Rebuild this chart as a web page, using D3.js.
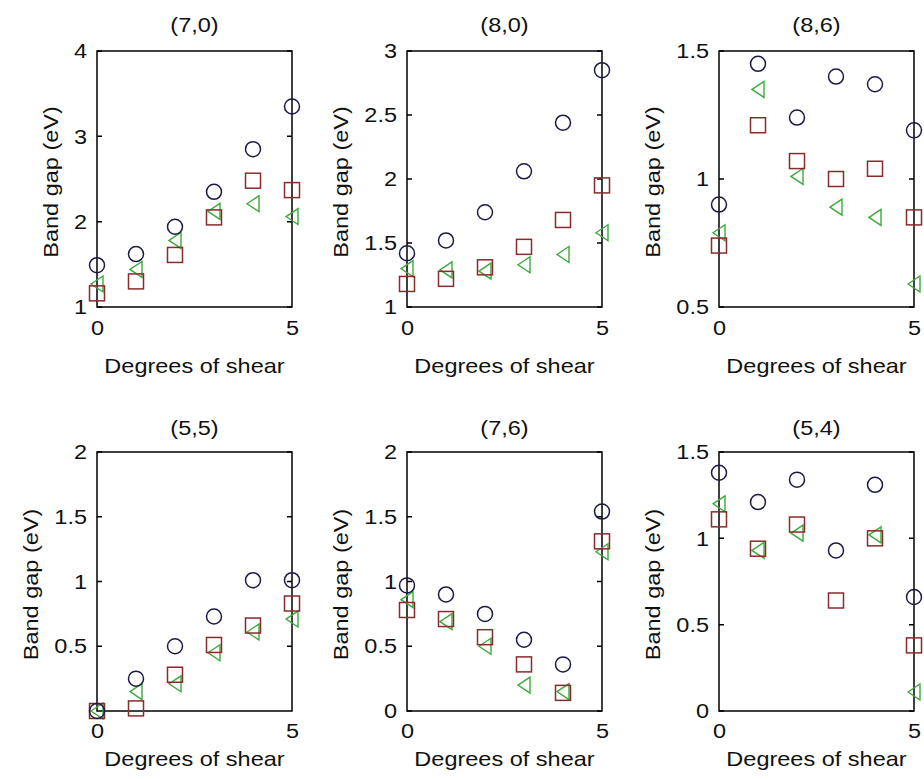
<!DOCTYPE html>
<html>
<head>
<meta charset="utf-8">
<script src="https://cdn.jsdelivr.net/npm/d3@7"></script>
<style>
  body { margin: 0; background: #fff; }
  svg text { font-family: "Liberation Sans", Arial, Helvetica, sans-serif; fill: #111; }
</style>
</head>
<body>
<div id="chart"></div>
<script>
// shear angle on x for every panel
const shear = [0, 1, 2, 3, 4, 5];

// panel titles (nanotube chirality)
const titles = ["(7,0)", "(8,0)", "(8,6)", "(5,5)", "(7,6)", "(5,4)"];

// y axis ranges and tick labels per panel
const yDomains = [[1, 4], [1, 3], [0.5, 1.5], [0, 2], [0, 2], [0, 1.5]];
const yTicks = [
    [1, 2, 3, 4],
    [1, 1.5, 2, 2.5, 3],
    [0.5, 1, 1.5],
    [0.5, 1, 1.5, 2],
    [0, 0.5, 1, 1.5, 2],
    [0, 0.5, 1, 1.5]
];
const xTicks = [0, 5];

// band gap (eV): circles
const circles = [
    [1.49, 1.62, 1.94, 2.35, 2.85, 3.35],
    [1.42, 1.52, 1.74, 2.06, 2.44, 2.85],
    [0.90, 1.45, 1.24, 1.40, 1.37, 1.19],
    [0.00, 0.25, 0.50, 0.73, 1.01, 1.01],
    [0.97, 0.90, 0.75, 0.55, 0.36, 1.54],
    [1.38, 1.21, 1.34, 0.93, 1.31, 0.66]
];
// band gap (eV): squares
const squares = [
    [1.16, 1.30, 1.61, 2.05, 2.48, 2.37],
    [1.18, 1.22, 1.31, 1.47, 1.68, 1.95],
    [0.74, 1.21, 1.07, 1.00, 1.04, 0.85],
    [0.00, 0.02, 0.28, 0.51, 0.66, 0.83],
    [0.78, 0.71, 0.57, 0.36, 0.14, 1.31],
    [1.11, 0.94, 1.08, 0.64, 1.00, 0.38]
];
// band gap (eV): left triangles
const triangles = [
    [1.27, 1.44, 1.78, 2.12, 2.21, 2.06],
    [1.30, 1.29, 1.28, 1.33, 1.41, 1.58],
    [0.79, 1.35, 1.01, 0.89, 0.85, 0.59],
    [0.00, 0.15, 0.21, 0.45, 0.61, 0.71],
    [0.86, 0.69, 0.50, 0.20, 0.15, 1.23],
    [1.20, 0.93, 1.03, null, 1.02, 0.11]
];

const W = 924, H = 779;
const colLeft = [97, 407, 719];
const panelW = 195;
const rows = [
    { top: 51, height: 256, titleGap: 19, tickGap: 28, labelGap: 66 },
    { top: 452, height: 259, titleGap: 17, tickGap: 27, labelGap: 55 }
];
const fontSize = 21;
const stretch = 1.12;   // the original glyphs are a bit wider than Arial
const markerColors = { circle: "#1b1b48", square: "#8a2b2b", triangle: "#3daa3d" };

const svg = d3.select("#chart").append("svg")
    .attr("width", W)
    .attr("height", H);

// text with a little horizontal stretch
function label(g, x, y, txt, anchor, rotate) {
    const rot = rotate ? " rotate(-90)" : "";
    return g.append("text")
        .attr("transform", `translate(${x},${y})${rot} scale(${stretch},1)`)
        .attr("text-anchor", anchor)
        .style("font-size", fontSize + "px")
        .text(txt);
}

titles.forEach((title, i) => {
    const row = rows[Math.floor(i / 3)];
    const left = colLeft[i % 3];
    const g = svg.append("g").attr("transform", `translate(${left},${row.top})`);

    const x = d3.scaleLinear().domain([0, 5]).range([0, panelW]);
    const y = d3.scaleLinear().domain(yDomains[i]).range([row.height, 0]);

    // title
    label(g, panelW / 2, -row.titleGap, title, "middle");

    // y axis (labels only, ticks drawn inside below)
    const yAxis = g.append("g")
        .call(d3.axisLeft(y).tickValues(yTicks[i]).tickSize(0).tickPadding(10).tickFormat(d => String(d)));
    yAxis.select(".domain").remove();
    yAxis.selectAll("text")
        .style("font-size", fontSize + "px")
        .style("font-family", "Liberation Sans, Arial, sans-serif")
        .each(function() {
            const t = d3.select(this);
            const xx = +t.attr("x");
            t.attr("transform", `translate(${xx},0) scale(${stretch},1)`).attr("x", 0);
        });

    // x axis labels
    const xAxis = g.append("g")
        .attr("transform", `translate(0,${row.height})`)
        .call(d3.axisBottom(x).tickValues(xTicks).tickSize(0).tickPadding(0).tickFormat(d => String(d)));
    xAxis.select(".domain").remove();
    xAxis.selectAll("text")
        .attr("dy", null)
        .attr("y", 0)
        .attr("transform", `translate(0,${row.tickGap}) scale(${stretch},1)`)
        .style("font-size", fontSize + "px")
        .style("font-family", "Liberation Sans, Arial, sans-serif");

    // inner tick marks on left and right
    g.selectAll(".ytick")
        .data(yTicks[i])
        .enter().append("path")
        .attr("d", d => `M0,${y(d)}h5M${panelW},${y(d)}h-5`)
        .attr("stroke", "#000")
        .attr("stroke-width", 1.5);

    // y label, placed past the widest tick label
    const tickW = d3.max(yAxis.selectAll("text").nodes(), n => n.getBBox().width) * stretch;
    label(g, -(10 + tickW + 16), row.height / 2 + 3, "Band gap (eV)", "middle", true);

    // x label
    label(g, panelW / 2, row.height + row.labelGap, "Degrees of shear", "middle");

    // box
    g.append("rect")
        .attr("width", panelW)
        .attr("height", row.height)
        .attr("fill", "none")
        .attr("stroke", "#000")
        .attr("stroke-width", 1.5);

    // markers
    const pts = (arr) => shear.map((s, k) => ({ s, v: arr[k] })).filter(d => d.v != null);

    g.selectAll(".tri")
        .data(pts(triangles[i]))
        .enter().append("path")
        .attr("d", d => {
            const cx = x(d.s), cy = y(d.v);
            return `M${cx - 6},${cy}L${cx + 6},${cy - 8}L${cx + 6},${cy + 8}Z`;
        })
        .attr("fill", "none")
        .attr("stroke", markerColors.triangle)
        .attr("stroke-width", 1.4);

    g.selectAll(".sq")
        .data(pts(squares[i]))
        .enter().append("rect")
        .attr("x", d => x(d.s) - 7.5)
        .attr("y", d => y(d.v) - 7.5)
        .attr("width", 15)
        .attr("height", 15)
        .attr("fill", "none")
        .attr("stroke", markerColors.square)
        .attr("stroke-width", 1.5);

    g.selectAll(".circ")
        .data(pts(circles[i]))
        .enter().append("circle")
        .attr("cx", d => x(d.s))
        .attr("cy", d => y(d.v))
        .attr("r", 7.5)
        .attr("fill", "none")
        .attr("stroke", markerColors.circle)
        .attr("stroke-width", 1.5);
});
</script>
</body>
</html>
